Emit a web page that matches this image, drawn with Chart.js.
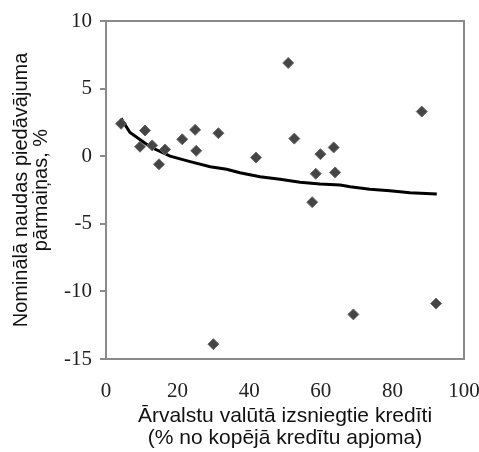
<!DOCTYPE html>
<html>
<head>
<meta charset="utf-8">
<script src="https://cdn.jsdelivr.net/npm/chart.js@4"></script>
<style>
  html, body { margin: 0; padding: 0; background: #fff; }
  #wrap { width: 479px; height: 452px; }
</style>
</head>
<body>
<div id="wrap"><canvas id="scatterChart"></canvas></div>
<script>
// foreign-currency loans (% of total) vs change in nominal money supply (%)
const loanShare = [4.2, 9.5, 10.9, 12.9, 14.8, 16.5, 21.3, 24.9, 25.2, 31.4, 41.9,
  50.9, 52.6, 59.9, 63.6, 58.6, 64.0, 57.6, 88.2, 30.0, 69.1, 92.2];
const moneyChange = [2.4, 0.7, 1.9, 0.8, -0.6, 0.5, 1.25, 1.95, 0.4, 1.7, -0.1,
  6.9, 1.3, 0.15, 0.65, -1.3, -1.2, -3.4, 3.3, -13.9, -11.7, -10.9];

// trend line
const trendX = [4.2, 6.7, 12.3, 17.9, 23.5, 29.1, 33.7, 37.4, 43.0, 48.6,
  54.2, 59.8, 65.4, 68.2, 73.7, 79.3, 84.9, 92.4];
const trendY = [2.8, 1.75, 0.7, 0.0, -0.4, -0.78, -0.97, -1.22, -1.52, -1.71,
  -1.93, -2.06, -2.13, -2.26, -2.45, -2.55, -2.7, -2.8];

const xTicks = [0, 20, 40, 60, 80, 100];
const yTicks = [-15, -10, -5, 0, 5, 10];

const xTitle = ['Ārvalstu valūtā izsniegtie kredīti', '(% no kopējā kredītu apjoma)'];
const yTitle = ['Nominālā naudas piedāvājuma', 'pārmaiņas, %'];

const tickFont = { family: 'Liberation Serif', size: 21 };
const xTitleFont = { family: 'Liberation Sans', size: 21, lineHeight: 1.05 };
const yTitleFont = { family: 'Liberation Sans', size: 20, lineHeight: 1.0 };
const axisGrey = '#8a8a8a';

const frameBox = {
  id: 'frameBox',
  afterDraw(chart) {
    const { ctx, chartArea: a } = chart;
    ctx.save();
    ctx.strokeStyle = axisGrey;
    ctx.lineWidth = 2;
    ctx.beginPath();
    ctx.moveTo(a.left, a.top);
    ctx.lineTo(a.right, a.top);
    ctx.lineTo(a.right, a.bottom);
    ctx.stroke();
    ctx.restore();
  }
};

const ctx = document.getElementById('scatterChart').getContext('2d');
new Chart(ctx, {
  type: 'scatter',
  data: {
    datasets: [
      {
        label: 'Valstis',
        data: loanShare.map((x, i) => ({ x: x, y: moneyChange[i] })),
        pointStyle: 'rectRot',
        pointRadius: 5.5,
        backgroundColor: '#454545',
        borderColor: '#6a6a6a',
        borderWidth: 1
      },
      {
        label: 'Tendence',
        data: trendX.map((x, i) => ({ x: x, y: trendY[i] })),
        showLine: true,
        pointRadius: 0,
        borderColor: '#000000',
        borderWidth: 3,
        tension: 0
      }
    ]
  },
  options: {
    responsive: true,
    maintainAspectRatio: false,
    animation: false,
    layout: { padding: { top: 21, right: 15, left: 0, bottom: 0 } },
    plugins: { legend: { display: false }, tooltip: { enabled: false } },
    scales: {
      x: {
        min: 0,
        max: 100,
        afterBuildTicks: scale => { scale.ticks = xTicks.map(v => ({ value: v })); },
        afterFit: scale => {
          scale.height = 93;
          scale.paddingLeft = 0;
          scale.paddingRight = 0;
        },
        grid: { display: false, drawTicks: false },
        border: { display: true, color: axisGrey, width: 2 },
        ticks: { font: tickFont, color: '#222', padding: 20, maxRotation: 0, autoSkip: false },
        title: { display: true, text: xTitle, font: xTitleFont, color: '#111', padding: { top: 0, bottom: 3 } }
      },
      y: {
        min: -15,
        max: 10,
        afterBuildTicks: scale => { scale.ticks = yTicks.map(v => ({ value: v })); },
        afterFit: scale => {
          scale.width = 106;
          scale.paddingTop = 0;
          scale.paddingBottom = 0;
        },
        grid: { drawOnChartArea: false, drawTicks: true, tickLength: 6, color: axisGrey, lineWidth: 2 },
        border: { display: true, color: axisGrey, width: 2 },
        ticks: { font: tickFont, color: '#222', padding: 8, autoSkip: false },
        title: { display: true, text: yTitle, font: yTitleFont, color: '#111', padding: { top: 11, bottom: 0 } }
      }
    }
  },
  plugins: [frameBox]
});
</script>
</body>
</html>
